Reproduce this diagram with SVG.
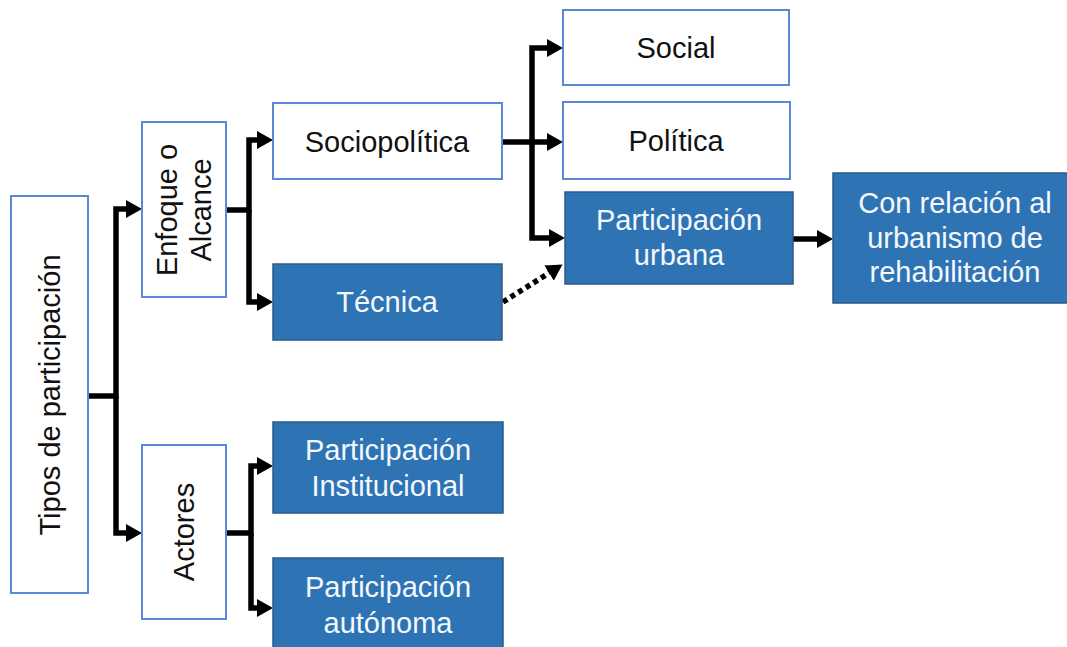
<svg xmlns="http://www.w3.org/2000/svg" width="1067" height="647" viewBox="0 0 1067 647">
<defs>
<marker id="ah" markerUnits="userSpaceOnUse" markerWidth="16" markerHeight="18" refX="0" refY="9" orient="auto">
<path d="M0,0 L16,9 L0,18 z" fill="#000"/>
</marker>
<style>
.w{fill:#fff;stroke:#5b87d6;stroke-width:2}
.b{fill:#2e74b5;stroke:#2a5a8c;stroke-width:1.5}
.t{font-family:"Liberation Sans",Arial,sans-serif;font-size:29px;text-anchor:middle}
.tk{fill:#111}
.tw{fill:#f4f8fc}
.c{fill:none;stroke:#000;stroke-width:5.5}
</style>
</defs>
<rect width="1067" height="647" fill="#fff"/>
<g id="connectors">
<path class="c" d="M88,396 H116 V209 H126" marker-end="url(#ah)"/>
<path class="c" d="M116,396 V533 H126" marker-end="url(#ah)"/>
<path class="c" d="M226,210 H249 V140 H257" marker-end="url(#ah)"/>
<path class="c" d="M249,210 V302 H257" marker-end="url(#ah)"/>
<path class="c" d="M502,142 H532 V48 H547" marker-end="url(#ah)"/>
<path class="c" d="M532,142 H547" marker-end="url(#ah)"/>
<path class="c" d="M532,142 V238 H549" marker-end="url(#ah)"/>
<path class="c" d="M793,239 H817" marker-end="url(#ah)"/>
<path class="c" d="M226,533 H251 V466 H257" marker-end="url(#ah)"/>
<path class="c" d="M251,533 V608 H257" marker-end="url(#ah)"/>
<path class="c" d="M503,302 L549,273" stroke-dasharray="5,4" marker-end="url(#ah)"/>
</g>
<g id="tipos">
<rect class="w" x="11" y="196" width="77" height="397"/>
<text class="t tk" transform="translate(60,395) rotate(-90)">Tipos de participación</text>
</g>
<g id="enfoque">
<rect class="w" x="142" y="122" width="84" height="175"/>
<text class="t tk" transform="translate(184,210) rotate(-90)"><tspan x="0" y="-7">Enfoque o</tspan><tspan x="0" y="27">Alcance</tspan></text>
</g>
<g id="actores">
<rect class="w" x="142" y="445" width="84" height="174"/>
<text class="t tk" transform="translate(194,532) rotate(-90)">Actores</text>
</g>
<g id="sociopolitica">
<rect class="w" x="273" y="103" width="229" height="76"/>
<text class="t tk" x="387" y="152">Sociopolítica</text>
</g>
<g id="tecnica">
<rect class="b" x="273" y="264" width="229" height="76"/>
<text class="t tw" x="387" y="312">Técnica</text>
</g>
<g id="social">
<rect class="w" x="563" y="10" width="226" height="75"/>
<text class="t tk" x="676" y="58">Social</text>
</g>
<g id="politica">
<rect class="w" x="563" y="102" width="227" height="77"/>
<text class="t tk" x="676" y="151">Política</text>
</g>
<g id="urbana">
<rect class="b" x="565" y="192" width="228" height="92"/>
<text class="t tw" x="679"><tspan x="679" y="230">Participación</tspan><tspan x="679" y="265">urbana</tspan></text>
</g>
<g id="rehabilitacion">
<rect class="b" x="833" y="173" width="244" height="130"/>
<text class="t tw"><tspan x="955" y="213">Con relación al</tspan><tspan x="955" y="248">urbanismo de</tspan><tspan x="955" y="282">rehabilitación</tspan></text>
</g>
<g id="institucional">
<rect class="b" x="273" y="422" width="230" height="91"/>
<text class="t tw"><tspan x="388" y="460">Participación</tspan><tspan x="388" y="496">Institucional</tspan></text>
</g>
<g id="autonoma">
<rect class="b" x="273" y="558" width="230" height="100"/>
<text class="t tw"><tspan x="388" y="597">Participación</tspan><tspan x="388" y="633">autónoma</tspan></text>
</g>
</svg>
